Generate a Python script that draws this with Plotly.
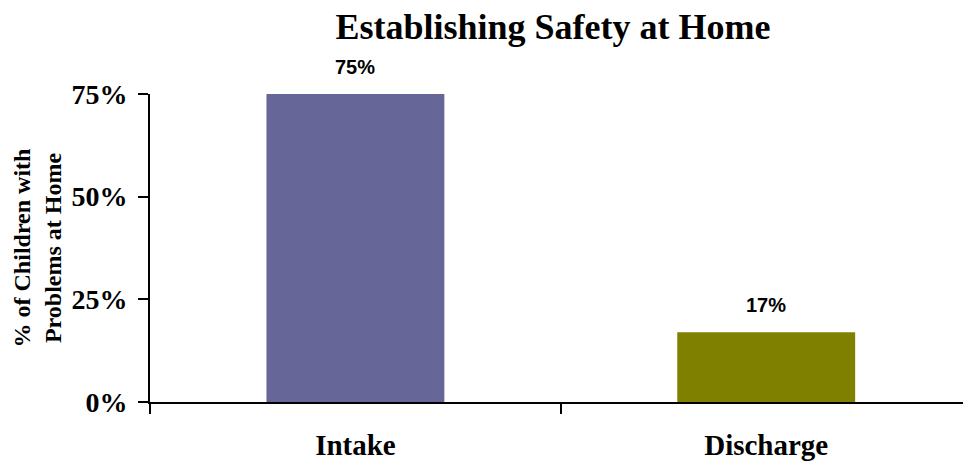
import plotly.graph_objects as go

categories = ["Intake", "Discharge"]
values = [75, 17]
labels = ["75%", "17%"]
colors = ["#666699", "#808000"]
y_ticks = [0, 25, 50, 75]
y_tick_labels = ["0%", "25%", "50%", "75%"]

serif = "Liberation Serif"

fig = go.Figure()
fig.add_trace(go.Bar(x=categories, y=values, marker=dict(color=colors, line=dict(width=0)),
                     width=0.433, hoverinfo="skip"))

for c, v, t in zip(categories, values, labels):
    fig.add_annotation(x=c, y=v, text="<b>" + t + "</b>", showarrow=False, yshift=27,
                       font=dict(family="Liberation Sans", size=20, color="black"))

fig.update_layout(
    width=963, height=463,
    margin=dict(l=150, r=0, t=94, b=61),
    paper_bgcolor="white", plot_bgcolor="white",
    showlegend=False,
    title=dict(text="<b>Establishing Safety at Home</b>", x=553 / 963, xanchor="center",
               y=1 - 26 / 463, yanchor="middle",
               font=dict(family=serif, size=36, color="black")),
    xaxis=dict(range=[-0.5, 1.479], showline=True, linecolor="black", linewidth=2,
               automargin=False,
               ticks="outside", tickson="boundaries", ticklen=10, tickwidth=2, tickcolor="black",
               tickfont=dict(family=serif, size=29, color="black"),
               tickvals=categories, ticktext=["<b>" + c + "</b>" for c in categories],
               ticklabelstandoff=16, showgrid=False, zeroline=False),
    yaxis=dict(range=[0, 75], showline=True, linecolor="black", linewidth=2, automargin=False,
               ticks="outside", ticklen=10, tickwidth=2, tickcolor="black",
               tickvals=y_ticks, ticktext=["<b>" + t + "</b>" for t in y_tick_labels],
               tickfont=dict(family=serif, size=28, color="black"),
               ticklabelstandoff=5,
               showgrid=False, zeroline=False,
               title=dict(text="<b>% of Children with<br>Problems at Home</b>",
                          font=dict(family=serif, size=24, color="black"), standoff=3)),
)

fig.write_html("out.html", config={"displayModeBar": False},
               post_script="document.body.style.margin='0';document.body.style.overflow='hidden';")
